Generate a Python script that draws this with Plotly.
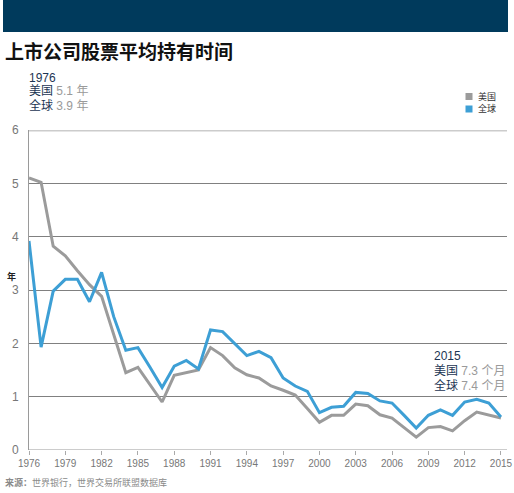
import plotly.graph_objects as go

years = list(range(1976, 2016))
us = [5.10, 5.02, 3.82, 3.64, 3.36, 3.10, 2.88, 2.15, 1.45, 1.55, 1.22, 0.90,
      1.40, 1.45, 1.50, 1.92, 1.77, 1.54, 1.41, 1.35, 1.20, 1.12, 1.03, 0.78,
      0.52, 0.65, 0.65, 0.86, 0.83, 0.66, 0.60, 0.42, 0.24, 0.42, 0.44, 0.36,
      0.55, 0.71, 0.65, 0.60]
world = [3.92, 1.93, 2.98, 3.20, 3.20, 2.78, 3.33, 2.50, 1.87, 1.92, 1.55, 1.17,
         1.57, 1.68, 1.52, 2.25, 2.22, 1.99, 1.77, 1.85, 1.73, 1.35, 1.20, 1.10,
         0.70, 0.80, 0.82, 1.08, 1.06, 0.92, 0.88, 0.65, 0.41, 0.65, 0.75, 0.65,
         0.90, 0.95, 0.88, 0.62]
xticks = list(range(1976, 2016, 3))
yticks = [0, 1, 2, 3, 4, 5, 6]
series_names = ["美国", "全球"]
colors = ["#9b9b9b", "#3d9fd5"]
start_note = ["1976", "5.1 年", "3.9 年"]
end_note = ["2015", "7.3 个月", "7.4 个月"]

CJK = "Noto Sans CJK SC"
NUM = "Liberation Sans, Noto Sans CJK SC"

W, H = 514, 493
L, R, T, B = 29, 7, 130, 43
PW, PH = W - L - R, H - T - B


def px(x):
    return (x - L) / PW


def py(y):
    return 1 - (y - T) / PH


fig = go.Figure()
for name, vals, c in zip(series_names, [us, world], colors):
    fig.add_trace(go.Scatter(x=years, y=vals, mode="lines", name=name,
                             line=dict(color=c, width=3), showlegend=False,
                             hoverinfo="skip"))

fig.update_layout(
    width=W, height=H,
    margin=dict(l=L, r=R, t=T, b=B, autoexpand=False),
    paper_bgcolor="white", plot_bgcolor="white",
    font=dict(family=NUM, color="#777777", size=11),
    xaxis=dict(range=[1976, 2015.5], tickvals=xticks, ticks="outside",
               ticklen=4, tickcolor="#aaaaaa", showgrid=False, zeroline=False,
               showline=False, automargin=False,
               tickfont=dict(size=10, color="#777777")),
    yaxis=dict(range=[0, 6], tickvals=yticks, showgrid=True,
               gridcolor="#808080", gridwidth=1, zeroline=False,
               showline=True, linecolor="#9a9a9a", linewidth=1,
               ticks="", automargin=False, ticklabelstandoff=7,
               tickfont=dict(size=12, color="#777777")),
    showlegend=False,
)

# top band
fig.add_shape(type="rect", xref="paper", yref="paper", x0=px(3), x1=px(508),
              y0=py(32), y1=py(0), fillcolor="#003a5c",
              line=dict(width=0), layer="below")
# top gridline and baseline
fig.add_shape(type="line", xref="paper", yref="y", x0=0, x1=1, y0=6, y1=6,
              line=dict(color="#cccccc", width=3), layer="below")
fig.add_shape(type="line", xref="paper", yref="y", x0=0, x1=1, y0=0, y1=0,
              line=dict(color="#cccccc", width=2), layer="below")

# legend
for i, (name, c) in enumerate(zip(series_names, colors)):
    yc = 96.5 + i * 12.5
    fig.add_shape(type="rect", xref="paper", yref="paper",
                  x0=px(465.5), x1=px(472.5), y0=py(yc + 3.5), y1=py(yc - 3.5),
                  fillcolor=c, line=dict(width=0))
    fig.add_annotation(xref="paper", yref="paper", x=px(476), y=py(yc),
                       xanchor="left", yanchor="middle", showarrow=False,
                       text=name, font=dict(family=CJK, size=9, color="#333333"))

fig.add_annotation(xref="paper", yref="paper", x=px(3), y=py(50),
                   xanchor="left", yanchor="middle", showarrow=False,
                   text="<b>上市公司股票平均持有时间</b>",
                   font=dict(family=CJK, size=19, color="#111111"))


def note_block(x0, ys, lines):
    fig.add_annotation(xref="paper", yref="paper", x=px(x0), y=py(ys[0]),
                       xanchor="left", yanchor="middle", showarrow=False,
                       text=f"<span style='color:#1c3553'>{lines[0]}</span>",
                       font=dict(family=NUM, size=12))
    for yy, nm, val in zip(ys[1:], series_names, lines[1:]):
        fig.add_annotation(xref="paper", yref="paper", x=px(x0), y=py(yy),
                           xanchor="left", yanchor="middle", showarrow=False,
                           text=(f"<span style='color:#1c3553'>{nm}</span> "
                                 f"<span style='color:#9a9a9a'>{val}</span>"),
                           font=dict(family=NUM, size=12))


note_block(27, [78, 91.5, 105], start_note)
note_block(432, [356, 370.5, 385], end_note)

fig.add_annotation(xref="paper", yref="paper", x=px(11), y=py(276),
                   xanchor="center", yanchor="middle", showarrow=False,
                   text="<b>年</b>", font=dict(family=CJK, size=9, color="#222222"))
fig.add_annotation(xref="paper", yref="paper", x=px(3), y=py(482),
                   xanchor="left", yanchor="middle", showarrow=False,
                   text="<b>来源：</b>世界银行，世界交易所联盟数据库",
                   font=dict(family=CJK, size=9, color="#8a8a8a"))

fig.write_html("out.html")
